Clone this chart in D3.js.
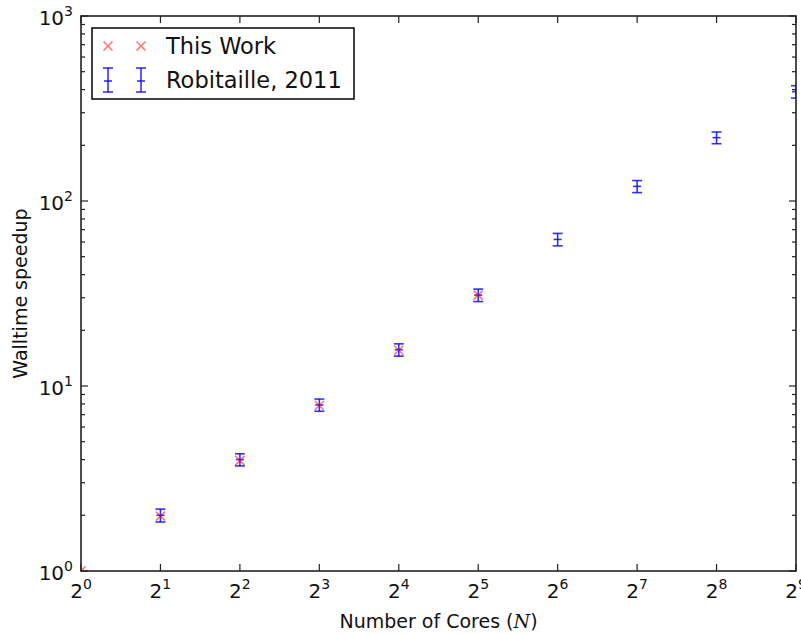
<!DOCTYPE html>
<html>
<head>
<meta charset="utf-8">
<script src="https://cdn.jsdelivr.net/npm/d3@7"></script>
<style>
  html, body { margin: 0; padding: 0; background: #fff; }
  svg { display: block; font-family: "DejaVu Sans", sans-serif; }
</style>
</head>
<body>
<svg id="chart" width="801" height="634"></svg>
<script>
"use strict";

// data
const thisWorkCores = [1, 2, 4, 8, 16, 32];
const thisWorkSpeedup = [1, 1.98, 3.95, 7.85, 15.6, 31];

const robCores = [2, 4, 8, 16, 32, 64, 128, 256, 512];
const robSpeedup = [2.0, 4.0, 7.9, 15.7, 31, 62, 120, 220, 390];
const robError = [0.16, 0.3, 0.6, 1.2, 2.4, 4.8, 9, 16, 30];

const xTickExp = [0, 1, 2, 3, 4, 5, 6, 7, 8, 9];
const yTickExp = [0, 1, 2, 3];

const legendLabels = ["This Work", "Robitaille, 2011"];

{
    const svg = d3.select("#chart"),
        m = { left: 81, right: 796, top: 16, bottom: 571 },
        red = "rgba(255,0,0,0.55)",
        blue = "rgba(0,0,255,0.8)";

    const x = d3.scaleLog().base(2).domain([1, 512]).range([m.left, m.right]);
    const y = d3.scaleLog().domain([1, 1000]).range([m.bottom, m.top]);

    svg.append("defs").append("clipPath").attr("id", "clip")
        .append("rect")
        .attr("x", m.left).attr("y", m.top)
        .attr("width", m.right - m.left).attr("height", m.bottom - m.top);

    const plot = svg.append("g").attr("clip-path", "url(#clip)");

    // error bars (Robitaille)
    const eb = plot.selectAll("g.eb")
        .data(robCores.map((c, i) => ({ c, v: robSpeedup[i], e: robError[i] })))
        .join("g")
        .attr("stroke", blue)
        .attr("stroke-width", 1.6);
    eb.append("line")
        .attr("x1", d => x(d.c)).attr("x2", d => x(d.c))
        .attr("y1", d => y(d.v + d.e)).attr("y2", d => y(d.v - d.e));
    [d => d.v + d.e, d => d.v - d.e, d => d.v].forEach((f, k) => {
        const hw = k === 2 ? 4 : 5;
        eb.append("line")
            .attr("x1", d => x(d.c) - hw).attr("x2", d => x(d.c) + hw)
            .attr("y1", d => y(f(d))).attr("y2", d => y(f(d)));
    });

    // x markers (This Work)
    const xs = 4.5;
    plot.selectAll("path.tw")
        .data(thisWorkCores.map((c, i) => [x(c), y(thisWorkSpeedup[i])]))
        .join("path")
        .attr("d", d => `M${d[0] - xs},${d[1] - xs}L${d[0] + xs},${d[1] + xs}` +
            `M${d[0] - xs},${d[1] + xs}L${d[0] + xs},${d[1] - xs}`)
        .attr("stroke", red)
        .attr("stroke-width", 1.6)
        .attr("fill", "none");

    // ticks
    const ticks = svg.append("g").attr("stroke", "#222").attr("stroke-width", 1.2);
    xTickExp.forEach(e => {
        const px = x(Math.pow(2, e));
        ticks.append("line").attr("x1", px).attr("x2", px).attr("y1", m.bottom).attr("y2", m.bottom - 7);
        ticks.append("line").attr("x1", px).attr("x2", px).attr("y1", m.top).attr("y2", m.top + 7);
    });
    y.ticks().forEach(t => {
        const py = y(t),
            major = Math.abs(Math.log10(t) - Math.round(Math.log10(t))) < 1e-9,
            len = major ? 7 : 4;
        ticks.append("line").attr("x1", m.left).attr("x2", m.left + len).attr("y1", py).attr("y2", py);
        ticks.append("line").attr("x1", m.right).attr("x2", m.right - len).attr("y1", py).attr("y2", py);
    });

    // frame
    svg.append("rect")
        .attr("x", m.left).attr("y", m.top)
        .attr("width", m.right - m.left).attr("height", m.bottom - m.top)
        .attr("fill", "none").attr("stroke", "#222").attr("stroke-width", 1.6);

    // tick labels
    xTickExp.forEach(e => {
        const t = svg.append("text")
            .attr("x", x(Math.pow(2, e))).attr("y", m.bottom + 27)
            .attr("text-anchor", "middle").attr("font-size", 20).attr("fill", "#111");
        t.append("tspan").text("2");
        t.append("tspan").attr("dy", -9).attr("font-size", 14).text(e);
    });
    yTickExp.forEach(e => {
        const t = svg.append("text")
            .attr("x", m.left - 8).attr("y", y(Math.pow(10, e)) + 9)
            .attr("text-anchor", "end").attr("font-size", 20).attr("fill", "#111");
        t.append("tspan").text("10");
        t.append("tspan").attr("dy", -9).attr("font-size", 14).text(e);
    });

    // axis labels
    const xl = svg.append("text")
        .attr("x", (m.left + m.right) / 2).attr("y", 628)
        .attr("text-anchor", "middle").attr("font-size", 19).attr("fill", "#111");
    xl.append("tspan").text("Number of Cores (");
    xl.append("tspan").attr("font-family", "DejaVu Serif").attr("font-style", "italic").text("N");
    xl.append("tspan").text(")");

    svg.append("text")
        .attr("transform", `translate(27,${(m.top + m.bottom) / 2}) rotate(-90)`)
        .attr("text-anchor", "middle").attr("font-size", 19).attr("fill", "#111")
        .text("Walltime speedup");

    // legend
    const lg = svg.append("g");
    lg.append("rect")
        .attr("x", 92).attr("y", 28).attr("width", 262).attr("height", 71)
        .attr("fill", "#fff").attr("stroke", "#111").attr("stroke-width", 1.6);
    [108, 141].forEach(px => {
        const py = 46;
        lg.append("path")
            .attr("d", `M${px - xs},${py - xs}L${px + xs},${py + xs}M${px - xs},${py + xs}L${px + xs},${py - xs}`)
            .attr("stroke", red).attr("stroke-width", 1.6);
        const g = lg.append("g").attr("stroke", blue).attr("stroke-width", 1.6);
        g.append("line").attr("x1", px).attr("x2", px).attr("y1", 68).attr("y2", 92);
        g.append("line").attr("x1", px - 5).attr("x2", px + 5).attr("y1", 68).attr("y2", 68);
        g.append("line").attr("x1", px - 5).attr("x2", px + 5).attr("y1", 92).attr("y2", 92);
        g.append("line").attr("x1", px - 4).attr("x2", px + 4).attr("y1", 81).attr("y2", 81);
    });
    legendLabels.forEach((l, i) => {
        lg.append("text")
            .attr("x", 166).attr("y", 54 + i * 34)
            .attr("font-size", 22.5).attr("fill", "#111")
            .text(l);
    });
}
</script>
</body>
</html>
